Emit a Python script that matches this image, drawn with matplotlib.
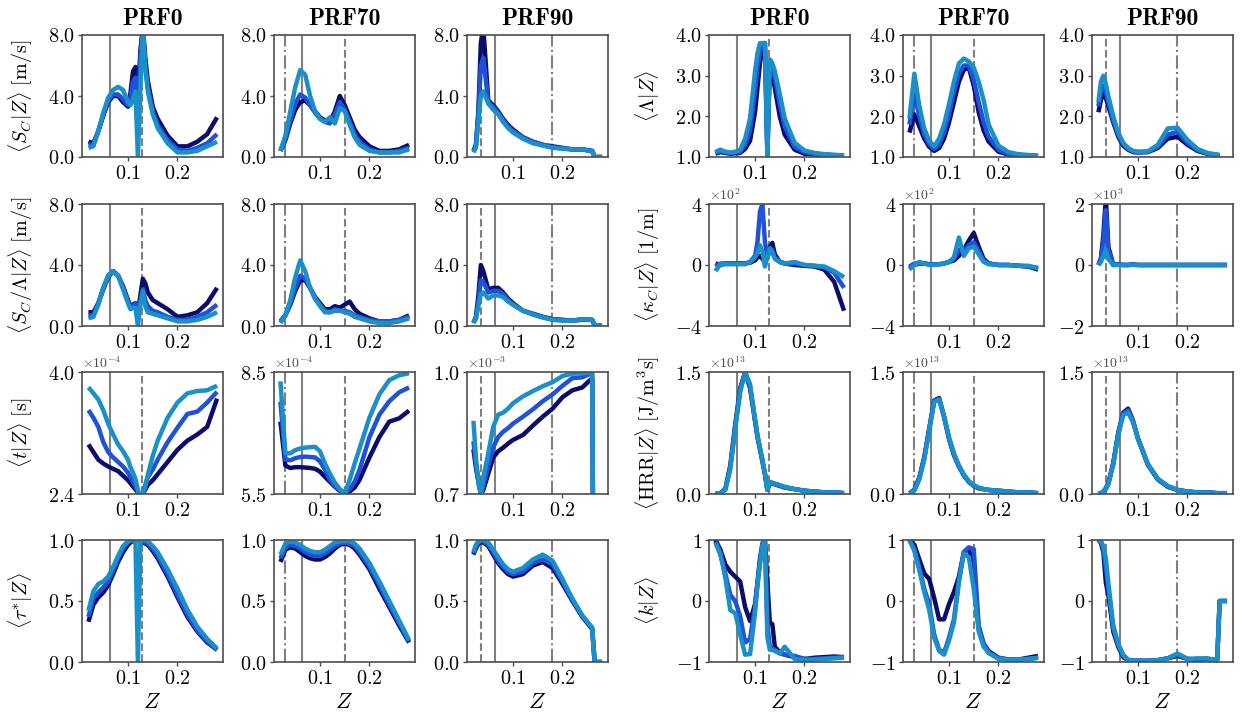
import matplotlib
matplotlib.use("Agg")
import matplotlib.pyplot as plt
import numpy as np

plt.rcParams["mathtext.fontset"] = "cm"
plt.rcParams["font.family"] = ["DejaVu Serif"]

W, H = 1242, 721

CASES = ["PRF0", "PRF70", "PRF90"]

# mixture-fraction grids for each case
Z_PRF0 = [0.02, 0.03, 0.04, 0.05, 0.06, 0.07, 0.08, 0.09, 0.10, 0.105, 0.11, 0.115, 0.12,
          0.125, 0.13, 0.135, 0.14, 0.15, 0.16, 0.18, 0.20, 0.22, 0.24, 0.26, 0.28]
Z_PRF70 = [0.02, 0.03, 0.04, 0.05, 0.06, 0.07, 0.08, 0.09, 0.10, 0.11, 0.12, 0.13, 0.14,
           0.15, 0.16, 0.17, 0.18, 0.20, 0.22, 0.24, 0.26, 0.28]
Z_PRF90 = [0.02, 0.025, 0.03, 0.035, 0.04, 0.05, 0.06, 0.07, 0.08, 0.09, 0.10, 0.12, 0.14,
           0.16, 0.18, 0.20, 0.22, 0.24, 0.26, 0.265, 0.28]
Z_GRID = {"PRF0": Z_PRF0, "PRF70": Z_PRF70, "PRF90": Z_PRF90}

# reference mixture fractions: (Z, linestyle)
ZREF = {
    "PRF0": [(0.064, "-"), (0.128, "--")],
    "PRF70": [(0.030, "-."), (0.064, "-"), (0.150, "--")],
    "PRF90": [(0.036, "--"), (0.064, "-"), (0.178, "-.")],
}

# each panel: (series 1, series 2, series 3)
SC_PRF0 = (
    [1.0, 0.9, 1.7, 2.7, 3.6, 4.0, 4.0, 3.6, 3.3, 4.2, 5.6, 5.9, 3.5, 7.0, 8.5, 6.5, 5.0, 3.3, 2.5, 1.4, 0.7, 0.7, 1.0, 1.5, 2.6],
    [0.8, 0.8, 1.7, 2.8, 3.7, 4.1, 4.1, 3.8, 3.4, 3.9, 4.9, 5.2, 3.0, 6.5, 8.5, 6.0, 4.6, 3.0, 2.1, 1.1, 0.5, 0.4, 0.6, 0.9, 1.5],
    [0.6, 0.7, 1.7, 2.9, 3.9, 4.4, 4.6, 4.4, 3.6, 3.4, 3.8, 4.3, 0.0, 4.5, 8.5, 5.8, 4.3, 2.8, 1.9, 0.9, 0.3, 0.3, 0.4, 0.7, 1.0],
)
SC_PRF70 = (
    [0.4, 1.1, 2.2, 3.1, 3.6, 3.7, 3.4, 3.0, 2.6, 2.4, 2.3, 3.0, 4.0, 3.4, 2.6, 1.8, 1.3, 0.7, 0.4, 0.4, 0.5, 0.8],
    [0.4, 1.2, 2.4, 3.5, 4.1, 3.9, 3.4, 2.9, 2.5, 2.3, 2.2, 2.8, 3.6, 3.1, 2.3, 1.5, 1.0, 0.5, 0.3, 0.3, 0.4, 0.6],
    [0.4, 1.4, 3.0, 4.6, 5.7, 5.4, 4.0, 3.0, 2.5, 2.3, 2.6, 2.2, 3.2, 3.0, 2.1, 1.3, 0.8, 0.4, 0.3, 0.3, 0.3, 0.5],
)
SC_PRF90 = (
    [0.4, 0.8, 3.0, 7.5, 8.5, 3.7, 3.4, 3.0, 2.5, 2.1, 1.8, 1.3, 1.0, 0.8, 0.7, 0.6, 0.5, 0.5, 0.4, 0.0, 0.0],
    [0.4, 0.7, 2.8, 6.0, 6.5, 3.6, 3.3, 2.9, 2.4, 2.0, 1.7, 1.3, 1.0, 0.8, 0.65, 0.55, 0.5, 0.5, 0.4, 0.0, 0.0],
    [0.3, 0.6, 2.3, 4.0, 4.3, 3.5, 3.1, 2.8, 2.3, 1.9, 1.6, 1.2, 0.9, 0.75, 0.6, 0.55, 0.5, 0.5, 0.35, 0.0, 0.0],
)

SCL_PRF0 = (
    [0.9, 0.9, 1.5, 2.4, 3.2, 3.6, 3.3, 2.6, 1.7, 1.3, 1.4, 1.5, 0.9, 2.0, 3.1, 2.8, 2.2, 1.7, 1.5, 1.1, 0.6, 0.7, 0.9, 1.5, 2.5],
    [0.7, 0.7, 1.5, 2.5, 3.3, 3.6, 3.3, 2.5, 1.6, 1.2, 1.3, 1.5, 0.6, 1.6, 2.4, 1.7, 1.3, 1.0, 0.9, 0.6, 0.4, 0.4, 0.6, 0.9, 1.4],
    [0.5, 0.6, 1.4, 2.5, 3.3, 3.6, 3.3, 2.4, 1.5, 1.1, 1.2, 1.2, 0.0, 1.4, 2.3, 1.3, 0.9, 0.8, 0.7, 0.5, 0.3, 0.3, 0.4, 0.6, 0.9],
)
SCL_PRF70 = (
    [0.3, 0.7, 1.4, 2.3, 3.0, 3.0, 2.5, 1.9, 1.5, 1.1, 1.1, 1.3, 1.2, 1.4, 1.6, 1.1, 0.8, 0.5, 0.3, 0.3, 0.4, 0.7],
    [0.3, 0.7, 1.5, 2.5, 3.3, 3.1, 2.5, 1.8, 1.4, 1.0, 0.9, 1.1, 1.0, 1.0, 0.9, 0.7, 0.6, 0.4, 0.3, 0.3, 0.4, 0.6],
    [0.2, 0.7, 1.7, 3.2, 4.3, 3.6, 2.5, 1.8, 1.3, 0.9, 0.9, 1.0, 1.0, 0.9, 0.8, 0.6, 0.5, 0.3, 0.2, 0.2, 0.3, 0.5],
)
SCL_PRF90 = (
    [0.2, 0.6, 2.0, 4.0, 3.6, 2.4, 2.5, 2.5, 2.2, 1.8, 1.5, 1.0, 0.8, 0.6, 0.45, 0.4, 0.35, 0.45, 0.4, 0.05, 0.05],
    [0.2, 0.5, 1.6, 3.0, 2.9, 2.2, 2.3, 2.3, 2.1, 1.7, 1.4, 1.0, 0.8, 0.6, 0.45, 0.4, 0.35, 0.4, 0.4, 0.05, 0.05],
    [0.2, 0.5, 1.3, 2.1, 2.2, 1.8, 2.0, 2.0, 1.9, 1.6, 1.4, 1.0, 0.75, 0.55, 0.4, 0.35, 0.35, 0.45, 0.4, 0.05, 0.05],
)

# conditional time, in units of the offset shown above each panel
T_PRF0 = (
    [3.05, 2.95, 2.85, 2.80, 2.76, 2.73, 2.70, 2.64, 2.58, 2.54, 2.50, 2.46, 2.42, 2.30, 2.40, 2.46, 2.52, 2.58, 2.66, 2.82, 2.98, 3.10, 3.18, 3.28, 3.65],
    [3.50, 3.40, 3.28, 3.08, 2.95, 2.88, 2.82, 2.76, 2.68, 2.62, 2.56, 2.50, 2.44, 2.30, 2.42, 2.52, 2.62, 2.72, 2.85, 3.08, 3.27, 3.45, 3.48, 3.60, 3.74],
    [3.80, 3.72, 3.64, 3.50, 3.32, 3.18, 3.05, 2.96, 2.85, 2.75, 2.68, 2.60, 2.45, 2.30, 2.40, 2.50, 2.65, 2.90, 3.10, 3.40, 3.60, 3.72, 3.75, 3.76, 3.82],
)
T_PRF70 = (
    [7.28, 6.20, 6.14, 6.16, 6.16, 6.15, 6.14, 6.12, 6.05, 5.92, 5.80, 5.68, 5.58, 5.52, 5.56, 5.66, 5.85, 6.40, 6.90, 7.28, 7.36, 7.55],
    [7.77, 6.35, 6.33, 6.38, 6.41, 6.42, 6.41, 6.40, 6.30, 6.10, 5.85, 5.70, 5.60, 5.52, 5.62, 5.80, 6.10, 6.90, 7.45, 7.78, 8.00, 8.12],
    [8.27, 6.50, 6.50, 6.58, 6.62, 6.64, 6.65, 6.66, 6.55, 6.25, 6.00, 5.78, 5.62, 5.52, 5.85, 6.25, 6.62, 7.38, 7.95, 8.30, 8.42, 8.47],
)
T_PRF90 = (
    [0.81, 0.765, 0.73, 0.70, 0.71, 0.75, 0.79, 0.805, 0.814, 0.824, 0.833, 0.845, 0.868, 0.89, 0.91, 0.938, 0.955, 0.962, 0.985, 0.0, 0.0],
    [0.83, 0.775, 0.735, 0.70, 0.72, 0.77, 0.815, 0.84, 0.853, 0.862, 0.873, 0.89, 0.908, 0.928, 0.945, 0.966, 0.985, 0.987, 0.998, 0.0, 0.0],
    [0.88, 0.79, 0.73, 0.70, 0.74, 0.80, 0.865, 0.895, 0.90, 0.91, 0.923, 0.94, 0.953, 0.965, 0.975, 0.99, 0.996, 0.997, 0.998, 0.0, 0.0],
)

TAU_PRF0 = (
    [0.33, 0.47, 0.53, 0.57, 0.63, 0.72, 0.82, 0.90, 0.96, 0.98, 0.99, 1.00, 1.00, 0.99, 0.98, 0.97, 0.96, 0.91, 0.85, 0.70, 0.53, 0.37, 0.25, 0.16, 0.10],
    [0.37, 0.52, 0.57, 0.61, 0.66, 0.75, 0.85, 0.93, 0.98, 0.99, 1.00, 1.00, 1.00, 1.00, 0.99, 0.98, 0.97, 0.93, 0.87, 0.72, 0.55, 0.39, 0.26, 0.17, 0.10],
    [0.42, 0.58, 0.64, 0.66, 0.70, 0.78, 0.87, 0.95, 0.99, 1.00, 1.00, 1.00, 0.00, 1.00, 1.00, 1.00, 0.99, 0.95, 0.90, 0.76, 0.60, 0.43, 0.29, 0.19, 0.11],
)
TAU_PRF70 = (
    [0.82, 0.92, 0.94, 0.93, 0.90, 0.87, 0.85, 0.84, 0.84, 0.86, 0.89, 0.93, 0.96, 0.97, 0.96, 0.93, 0.88, 0.76, 0.60, 0.45, 0.30, 0.16],
    [0.85, 0.94, 0.96, 0.95, 0.93, 0.90, 0.88, 0.87, 0.87, 0.89, 0.92, 0.95, 0.97, 0.98, 0.97, 0.95, 0.90, 0.78, 0.63, 0.47, 0.32, 0.17],
    [0.88, 0.97, 0.99, 0.98, 0.96, 0.93, 0.91, 0.90, 0.90, 0.92, 0.95, 0.98, 0.99, 0.99, 0.99, 0.97, 0.93, 0.81, 0.66, 0.50, 0.34, 0.18],
)
TAU_PRF90 = (
    [0.88, 0.93, 0.97, 0.98, 0.98, 0.95, 0.88, 0.81, 0.76, 0.72, 0.70, 0.72, 0.79, 0.82, 0.77, 0.64, 0.50, 0.37, 0.27, 0.0, 0.0],
    [0.89, 0.95, 0.98, 0.99, 0.99, 0.96, 0.90, 0.83, 0.78, 0.74, 0.72, 0.74, 0.81, 0.84, 0.80, 0.66, 0.51, 0.38, 0.28, 0.0, 0.0],
    [0.90, 0.96, 0.99, 1.00, 1.00, 0.98, 0.92, 0.86, 0.80, 0.76, 0.74, 0.77, 0.84, 0.88, 0.83, 0.68, 0.52, 0.38, 0.28, 0.0, 0.0],
)

LAM_PRF0 = (
    [1.08, 1.12, 1.10, 1.08, 1.09, 1.10, 1.20, 1.40, 2.10, 2.70, 3.30, 3.70, 3.80, 1.10, 3.30, 3.00, 2.70, 2.00, 1.55, 1.18, 1.08, 1.06, 1.05, 1.04, 1.03],
    [1.10, 1.15, 1.12, 1.10, 1.11, 1.13, 1.30, 1.65, 2.60, 3.20, 3.60, 3.80, 3.80, 1.05, 3.35, 3.20, 2.95, 2.30, 1.75, 1.25, 1.12, 1.08, 1.06, 1.05, 1.04],
    [1.12, 1.18, 1.13, 1.11, 1.13, 1.17, 1.45, 1.95, 3.10, 3.55, 3.80, 3.80, 3.80, 1.00, 3.40, 3.30, 3.12, 2.55, 1.95, 1.35, 1.16, 1.10, 1.07, 1.05, 1.04],
)
LAM_PRF70 = (
    [1.60, 2.05, 1.75, 1.45, 1.25, 1.15, 1.22, 1.45, 1.85, 2.35, 2.85, 3.15, 3.20, 2.75, 2.10, 1.65, 1.38, 1.13, 1.06, 1.04, 1.03, 1.02],
    [1.80, 2.55, 2.00, 1.55, 1.32, 1.20, 1.30, 1.60, 2.05, 2.60, 3.05, 3.25, 3.25, 2.90, 2.35, 1.85, 1.50, 1.18, 1.08, 1.05, 1.04, 1.03],
    [1.95, 3.05, 2.25, 1.70, 1.40, 1.26, 1.45, 1.80, 2.30, 2.85, 3.30, 3.42, 3.35, 3.20, 2.85, 2.40, 1.80, 1.28, 1.12, 1.07, 1.05, 1.03],
)
LAM_PRF90 = (
    [2.10, 2.40, 2.55, 2.45, 2.25, 1.85, 1.50, 1.28, 1.18, 1.12, 1.11, 1.12, 1.22, 1.45, 1.50, 1.30, 1.15, 1.08, 1.05, 1.04, np.nan],
    [2.25, 2.60, 2.75, 2.60, 2.35, 1.90, 1.55, 1.32, 1.20, 1.14, 1.12, 1.13, 1.25, 1.55, 1.62, 1.35, 1.17, 1.09, 1.05, 1.04, np.nan],
    [2.35, 2.85, 3.00, 2.80, 2.50, 2.00, 1.60, 1.35, 1.22, 1.15, 1.13, 1.14, 1.30, 1.70, 1.72, 1.42, 1.20, 1.10, 1.06, 1.05, np.nan],
)

# curvature, x1e2 (PRF0, PRF70) and x1e3 (PRF90)
KAP_PRF0 = (
    [0.1, 0.0, 0.1, 0.1, 0.1, 0.1, 0.1, 0.15, 0.3, 0.5, 0.6, 0.4, 0.2, 0.6, 1.2, 1.45, 0.7, 0.2, 0.1, 0.0, -0.05, -0.1, -0.3, -1.1, -3.0],
    [-0.1, 0.1, 0.1, 0.1, 0.1, 0.1, 0.1, 0.2, 0.6, 1.5, 3.5, 4.0, 1.5, 0.6, 0.8, 1.0, 0.5, 0.2, 0.1, 0.1, 0.0, -0.05, -0.15, -0.5, -1.5],
    [-0.4, 0.05, 0.05, 0.05, 0.05, 0.05, 0.05, 0.2, 0.5, 0.8, 1.3, 0.9, -0.1, 0.5, 1.1, 0.8, 0.4, 0.2, 0.1, 0.2, 0.0, -0.05, -0.1, -0.4, -0.8],
)
KAP_PRF70 = (
    [-0.2, 0.0, 0.1, 0.1, 0.05, 0.05, 0.05, 0.1, 0.2, 0.3, 0.6, 1.0, 1.6, 2.1, 1.2, 0.4, 0.1, 0.0, 0.0, -0.05, -0.1, -0.3],
    [-0.1, 0.1, 0.1, 0.1, 0.05, 0.05, 0.05, 0.1, 0.2, 0.4, 1.0, 0.9, 1.3, 1.5, 0.9, 0.3, 0.1, 0.0, 0.0, -0.05, -0.1, -0.2],
    [-0.3, 0.0, 0.2, 0.1, 0.0, 0.0, 0.05, 0.1, 0.2, 0.5, 1.8, 0.6, 1.1, 1.2, 0.7, 0.2, 0.05, 0.0, 0.0, -0.05, -0.05, -0.2],
)
KAP_PRF90 = (
    [0.0, 0.2, 1.0, 2.2, 0.6, 0.0, 0.02, 0.0, 0.0, 0.02, 0.0, 0.0, 0.0, 0.0, 0.0, 0.0, 0.0, 0.0, 0.0, 0.0, 0.0],
    [0.0, 0.2, 0.8, 1.8, 0.5, 0.0, 0.02, 0.0, 0.0, 0.02, 0.0, 0.0, 0.0, 0.0, 0.0, 0.0, 0.0, 0.0, 0.0, 0.0, 0.0],
    [0.0, 0.1, 0.3, 0.5, 0.2, 0.0, 0.0, 0.0, 0.0, 0.0, 0.0, 0.0, 0.0, 0.0, 0.0, 0.0, 0.0, 0.0, 0.0, 0.0, 0.0],
)

# heat release rate, x1e13
HRR_PRF0 = (
    [0.0, 0.01, 0.06, 0.35, 0.85, 1.30, 1.50, 1.30, 0.90, 0.70, 0.55, 0.40, 0.25, 0.05, 0.14, 0.13, 0.12, 0.10, 0.08, 0.06, 0.04, 0.03, 0.02, 0.02, 0.01],
    [0.0, 0.01, 0.06, 0.33, 0.83, 1.28, 1.50, 1.32, 0.91, 0.71, 0.56, 0.41, 0.25, 0.05, 0.14, 0.13, 0.12, 0.10, 0.08, 0.06, 0.04, 0.03, 0.02, 0.02, 0.01],
    [0.0, 0.01, 0.05, 0.30, 0.80, 1.25, 1.50, 1.35, 0.92, 0.72, 0.57, 0.42, 0.25, 0.05, 0.15, 0.14, 0.13, 0.11, 0.09, 0.06, 0.04, 0.03, 0.02, 0.02, 0.01],
)
HRR_PRF70 = (
    [0.01, 0.05, 0.20, 0.45, 0.80, 1.15, 1.18, 0.95, 0.68, 0.48, 0.34, 0.23, 0.15, 0.10, 0.07, 0.06, 0.05, 0.04, 0.03, 0.02, 0.02, 0.01],
    [0.01, 0.05, 0.20, 0.45, 0.80, 1.15, 1.17, 0.95, 0.68, 0.48, 0.34, 0.23, 0.15, 0.10, 0.07, 0.06, 0.05, 0.04, 0.03, 0.02, 0.02, 0.01],
    [0.01, 0.04, 0.18, 0.42, 0.78, 1.13, 1.16, 0.96, 0.70, 0.50, 0.35, 0.24, 0.16, 0.11, 0.08, 0.06, 0.05, 0.04, 0.03, 0.02, 0.02, 0.01],
)
HRR_PRF90 = (
    [0.0, 0.01, 0.03, 0.07, 0.13, 0.38, 0.75, 1.00, 1.05, 0.90, 0.68, 0.36, 0.18, 0.09, 0.05, 0.03, 0.02, 0.02, 0.01, 0.01, 0.01],
    [0.0, 0.01, 0.03, 0.07, 0.13, 0.38, 0.74, 0.99, 1.03, 0.89, 0.68, 0.36, 0.18, 0.09, 0.05, 0.03, 0.02, 0.02, 0.01, 0.01, 0.01],
    [0.0, 0.01, 0.03, 0.06, 0.12, 0.36, 0.72, 0.97, 1.00, 0.88, 0.68, 0.37, 0.19, 0.10, 0.05, 0.03, 0.02, 0.02, 0.01, 0.01, 0.01],
)

K_PRF0 = (
    [1.00, 0.84, 0.60, 0.48, 0.40, 0.32, -0.10, -0.33, -0.05, 0.30, 0.65, 0.92, 1.00, 0.30, -0.35, -0.38, -0.75, -0.84, -0.88, -0.92, -0.95, -0.93, -0.92, -0.91, -0.92],
    [0.97, 0.76, 0.45, 0.10, 0.00, -0.25, -0.68, -0.62, -0.10, 0.30, 0.70, 0.95, 1.00, -0.40, -0.75, -0.78, -0.80, -0.86, -0.88, -0.90, -0.95, -0.95, -0.94, -0.93, -0.92],
    [0.95, 0.78, 0.38, -0.15, -0.20, -0.55, -0.88, -0.87, -0.20, 0.25, 0.60, 0.90, 1.00, -0.60, -0.80, -0.80, -0.82, -0.86, -0.75, -0.95, -0.97, -0.96, -0.95, -0.94, -0.93],
)
K_PRF70 = (
    [1.00, 0.92, 0.68, 0.45, 0.36, 0.05, -0.30, -0.30, -0.05, 0.15, 0.40, 0.80, 0.87, 0.45, -0.45, -0.70, -0.82, -0.93, -0.96, -0.96, -0.93, -0.90],
    [1.00, 0.85, 0.55, 0.20, -0.05, -0.55, -0.80, -0.85, -0.60, -0.30, 0.35, 0.80, 0.88, 0.85, -0.40, -0.70, -0.85, -0.93, -0.96, -0.96, -0.95, -0.93],
    [1.00, 0.82, 0.50, 0.15, -0.15, -0.60, -0.82, -0.88, -0.65, -0.35, 0.30, 0.78, 0.72, 0.20, -0.50, -0.75, -0.85, -0.95, -0.96, -0.96, -0.95, -0.93],
)
K_PRF90 = (
    [1.00, 0.95, 0.80, 0.30, 0.10, -0.50, -0.75, -0.92, -0.97, -0.98, -0.98, -0.98, -0.97, -0.94, -0.90, -0.95, -0.96, -0.95, -0.97, 0.0, 0.0],
    [1.00, 0.97, 0.85, 0.55, 0.20, -0.45, -0.72, -0.90, -0.97, -0.98, -0.98, -0.98, -0.97, -0.94, -0.88, -0.95, -0.96, -0.95, -0.97, 0.0, 0.0],
    [1.00, 0.98, 0.90, 0.70, 0.30, -0.40, -0.70, -0.88, -0.96, -0.98, -0.98, -0.98, -0.97, -0.94, -0.86, -0.95, -0.94, -0.94, -0.97, 0.0, 0.0],
)

COLORS = ["#0c0c6a", "#1f52d8", "#1a8fc8"]
REF_COLOR = "#808080"


def m(s):
    return "$" + s + "$"


# row definitions: ylabel, data per case, ylim per case, ticks per case, tick labels, offset label
LEFT_ROWS = [
    dict(label=r"\langle S_C|Z\rangle\ [\mathrm{m/s}]",
         data=[SC_PRF0, SC_PRF70, SC_PRF90],
         ylim=[(0, 8)] * 3, ticks=[[0, 4, 8]] * 3,
         tlab=[["0.0", "4.0", "8.0"]] * 3, offset=[None] * 3),
    dict(label=r"\langle S_C/\Lambda|Z\rangle\ [\mathrm{m/s}]",
         data=[SCL_PRF0, SCL_PRF70, SCL_PRF90],
         ylim=[(0, 8)] * 3, ticks=[[0, 4, 8]] * 3,
         tlab=[["0.0", "4.0", "8.0"]] * 3, offset=[None] * 3),
    dict(label=r"\langle t|Z\rangle\ [\mathrm{s}]",
         data=[T_PRF0, T_PRF70, T_PRF90],
         ylim=[(2.4, 4.0), (5.5, 8.5), (0.7, 1.0)],
         ticks=[[2.4, 4.0], [5.5, 8.5], [0.7, 1.0]],
         tlab=[["2.4", "4.0"], ["5.5", "8.5"], ["0.7", "1.0"]],
         offset=[r"\times10^{-4}", r"\times10^{-4}", r"\times10^{-3}"]),
    dict(label=r"\langle \tau^{*}|Z\rangle",
         data=[TAU_PRF0, TAU_PRF70, TAU_PRF90],
         ylim=[(0, 1)] * 3, ticks=[[0, 0.5, 1.0]] * 3,
         tlab=[["0.0", "0.5", "1.0"]] * 3, offset=[None] * 3),
]

RIGHT_ROWS = [
    dict(label=r"\langle \Lambda|Z\rangle",
         data=[LAM_PRF0, LAM_PRF70, LAM_PRF90],
         ylim=[(1, 4)] * 3, ticks=[[1, 2, 3, 4]] * 3,
         tlab=[["1.0", "2.0", "3.0", "4.0"]] * 3, offset=[None] * 3),
    dict(label=r"\langle \kappa_C|Z\rangle\ [1/\mathrm{m}]",
         data=[KAP_PRF0, KAP_PRF70, KAP_PRF90],
         ylim=[(-4, 4), (-4, 4), (-2, 2)],
         ticks=[[-4, 0, 4], [-4, 0, 4], [-2, 0, 2]],
         tlab=[["-4", "0", "4"], ["-4", "0", "4"], ["-2", "0", "2"]],
         offset=[r"\times10^{2}", r"\times10^{2}", r"\times10^{3}"]),
    dict(label=r"\langle \mathrm{HRR}|Z\rangle\ [\mathrm{J/m^{3}s}]",
         data=[HRR_PRF0, HRR_PRF70, HRR_PRF90],
         ylim=[(0, 1.5)] * 3, ticks=[[0, 1.5]] * 3,
         tlab=[["0.0", "1.5"]] * 3, offset=[r"\times10^{13}"] * 3),
    dict(label=r"\langle k|Z\rangle",
         data=[K_PRF0, K_PRF70, K_PRF90],
         ylim=[(-1, 1)] * 3, ticks=[[-1, 0, 1]] * 3,
         tlab=[["-1", "0", "1"]] * 3, offset=[None] * 3),
]

# panel geometry in pixels
LEFT_COLS = [82, 274, 467]
RIGHT_COLS = [709, 903, 1092]
ROW_TOPS = [35, 204, 372, 540]
AX_W, AX_H = 141, 122

TICK_FS = 14.5


def draw_group(fig, cols, rows):
    for r, row in enumerate(rows):
        for c, case in enumerate(CASES):
            x0, y0 = cols[c], ROW_TOPS[r]
            ax = fig.add_axes([x0 / W, 1 - (y0 + AX_H) / H, AX_W / W, AX_H / H])
            z = Z_GRID[case]
            for zr, ls in ZREF[case]:
                ax.axvline(zr, color=REF_COLOR, lw=1.5, ls=ls, zorder=1)
            for vals, col in zip(row["data"][c], COLORS):
                ax.plot(z, vals, color=col, lw=3.2, zorder=2,
                        solid_joinstyle="round", solid_capstyle="butt")
            ax.set_xlim(0.007, 0.292)
            ax.set_ylim(*row["ylim"][c])
            ax.set_xticks([0.1, 0.2])
            ax.set_xticklabels([m("0.1"), m("0.2")], fontsize=TICK_FS)
            ax.set_yticks(row["ticks"][c])
            ax.set_yticklabels([m(t) for t in row["tlab"][c]], fontsize=TICK_FS)
            ax.tick_params(length=3, width=1, color="0.3", pad=2)
            for sp in ax.spines.values():
                sp.set_color("0.3")
                sp.set_linewidth(1.2)
            if row["offset"][c]:
                ax.text(0.0, 1.01, m(row["offset"][c]), transform=ax.transAxes,
                        fontsize=10, ha="left", va="bottom", color="0.3")
            if c == 0:
                ax.set_ylabel(m(row["label"]), fontsize=TICK_FS)
                ax.yaxis.set_label_coords(-0.33, 0.5)
            if r == 0:
                ax.set_title(case, fontfamily="cmb10", fontsize=17, pad=7)
            if r == len(rows) - 1:
                ax.set_xlabel(m("Z"), fontsize=16, labelpad=2)


fig = plt.figure(figsize=(W / 100, H / 100), dpi=100)
draw_group(fig, LEFT_COLS, LEFT_ROWS)
draw_group(fig, RIGHT_COLS, RIGHT_ROWS)
fig.savefig("out.png", dpi=100)
